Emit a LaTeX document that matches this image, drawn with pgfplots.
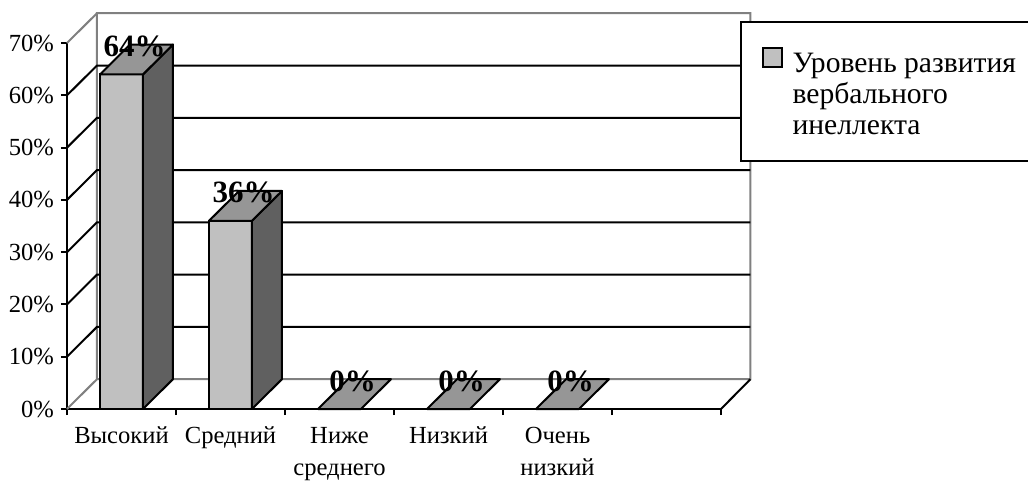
\documentclass[border=0pt]{standalone}
\usepackage{fontspec}
\setmainfont{Liberation Serif}
\usepackage{pgfplots}
\pgfplotsset{compat=1.18}
\definecolor{frontc}{HTML}{C0C0C0}
\definecolor{sidec}{HTML}{606060}
\definecolor{topc}{HTML}{969696}
\definecolor{wallc}{HTML}{808080}
\begin{document}
\begin{tikzpicture}
\begin{axis}[
  at={(0,0)}, anchor=south west,
  scale only axis, width=327pt, height=183pt,
  xmin=0, xmax=6, ymin=0, ymax=70, clip=false,
  axis lines=left, axis line style={-, line width=1pt, black},
  ytick={0,10,...,70},
  yticklabels={0\%,10\%,20\%,30\%,40\%,50\%,60\%,70\%},
  xtick={0,1,2,3,4,5},
  xticklabels={Высокий,Средний,{Ниже\\среднего},Низкий,{Очень\\низкий}},
  extra x ticks={6}, extra x tick labels={},
  xticklabel style={xshift=27.25pt, yshift=-2.5pt, align=center},
  tick align=outside, major tick length=3pt,
  tick style={line width=1pt, black},
  every tick label/.append style={font=\fontsize{12.3}{16}\selectfont},
  legend style={at={(axis cs:6.174,74.2)}, anchor=north west, draw=black,
    line width=1pt, fill=white, inner xsep=10.5pt, inner ysep=7pt,
    nodes={inner sep=2pt, text depth={}}, column sep=3pt,
    cells={anchor=base west}, font=\fontsize{14.8}{15.5}\selectfont},
]
% back walls
\addplot[wallc, line width=1pt, forget plot] coordinates {(0,0) (0.275,5.7) (0.275,75.7) (6.27,75.7) (6.27,5.7) (0.275,5.7)};
\addplot[wallc, line width=1pt, forget plot] coordinates {(0,70) (0.275,75.7)};
\addplot[black, line width=1pt, forget plot] coordinates {(0,10) (0.275,15.7) (6.27,15.7)};
\addplot[black, line width=1pt, forget plot] coordinates {(0,20) (0.275,25.7) (6.27,25.7)};
\addplot[black, line width=1pt, forget plot] coordinates {(0,30) (0.275,35.7) (6.27,35.7)};
\addplot[black, line width=1pt, forget plot] coordinates {(0,40) (0.275,45.7) (6.27,45.7)};
\addplot[black, line width=1pt, forget plot] coordinates {(0,50) (0.275,55.7) (6.27,55.7)};
\addplot[black, line width=1pt, forget plot] coordinates {(0,60) (0.275,65.7) (6.27,65.7)};
\addplot[black, line width=1pt, forget plot] coordinates {(6,0) (6.27,5.7)};
% front faces
\addplot[ybar, bar width=0.394, bar shift=0pt, fill=frontc, draw=black, line width=1pt,
  nodes near coords={\pgfmathprintnumber[assume math mode=true]{\pgfplotspointmeta}\%},
  nodes near coords style={font=\fontsize{15.5}{15.5}\bfseries\selectfont, anchor=center, xshift=6.5pt, yshift=14pt, black},
  legend image code/.code={\draw[fill=frontc, draw=black, line width=0.8pt] (0pt,2.5pt) rectangle (9.5pt,12pt);}]
  coordinates {(0.5,64) (1.5,36) (2.5,0) (3.5,0) (4.5,0)};
\addlegendentry{\begin{tabular}[t]{@{}l@{}}\rule{0pt}{16pt}Уровень развития\\вербального\\инеллекта\end{tabular}}
% side faces
\addplot[fill=sidec, draw=black, line width=1pt, line join=round, forget plot] coordinates {(0.697,0) (0.697,64) (0.972,69.7) (0.972,5.7)} -- cycle;
\addplot[fill=sidec, draw=black, line width=1pt, line join=round, forget plot] coordinates {(1.697,0) (1.697,36) (1.972,41.7) (1.972,5.7)} -- cycle;
% top faces
\addplot[fill=topc, draw=black, line width=1pt, line join=round, forget plot] coordinates {(0.303,64) (0.697,64) (0.972,69.7) (0.578,69.7)} -- cycle;
\addplot[fill=topc, draw=black, line width=1pt, line join=round, forget plot] coordinates {(1.303,36) (1.697,36) (1.972,41.7) (1.578,41.7)} -- cycle;
\addplot[fill=topc, draw=black, line width=1pt, line join=round, forget plot] coordinates {(2.303,0) (2.697,0) (2.972,5.7) (2.578,5.7)} -- cycle;
\addplot[fill=topc, draw=black, line width=1pt, line join=round, forget plot] coordinates {(3.303,0) (3.697,0) (3.972,5.7) (3.578,5.7)} -- cycle;
\addplot[fill=topc, draw=black, line width=1pt, line join=round, forget plot] coordinates {(4.303,0) (4.697,0) (4.972,5.7) (4.578,5.7)} -- cycle;
\end{axis}
\pgfresetboundingbox
\path[use as bounding box] (-33.5pt,-37pt) rectangle (480.5pt,204.5pt);
\end{tikzpicture}
\end{document}
